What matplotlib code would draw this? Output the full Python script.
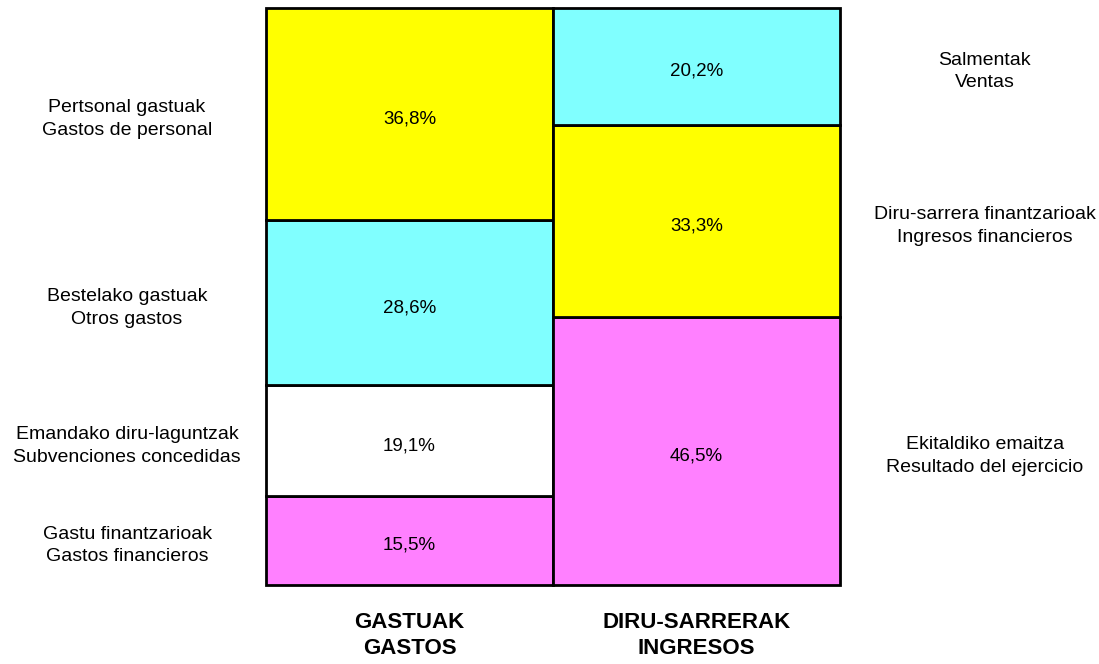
import matplotlib.pyplot as plt
import matplotlib.font_manager as fm

names = set(f.name for f in fm.fontManager.ttflist)
fam = 'Liberation Sans Narrow' if 'Liberation Sans Narrow' in names else 'Liberation Sans'
plt.rcParams['font.family'] = [fam, 'DejaVu Sans']

# data (percent shares, stacked bottom -> top)
gastos_vals = [15.5, 19.1, 28.6, 36.8]
gastos_labels = ['Gastu finantzarioak\nGastos financieros',
                 'Emandako diru-laguntzak\nSubvenciones concedidas',
                 'Bestelako gastuak\nOtros gastos',
                 'Pertsonal gastuak\nGastos de personal']
gastos_colors = ['#FF80FF', '#FFFFFF', '#80FFFF', '#FFFF00']

ingresos_vals = [46.5, 33.3, 20.2]
ingresos_labels = ['Ekitaldiko emaitza\nResultado del ejercicio',
                   'Diru-sarrera finantzarioak\nIngresos financieros',
                   'Salmentak\nVentas']
ingresos_colors = ['#FF80FF', '#FFFF00', '#80FFFF']

columns = ['GASTUAK\nGASTOS', 'DIRU-SARRERAK\nINGRESOS']

fig = plt.figure(figsize=(10.99, 6.64), dpi=100)
ax = fig.add_axes([266/1099, 79/664, 574/1099, 577/664])
ax.set_xlim(-0.5, 1.5)
ax.set_ylim(0, 100)
ax.axis('off')

def stack(xpos, vals, labels, colors, label_x):
    bottom = 0
    for v, lab, c in zip(vals, labels, colors):
        ax.bar(xpos, v, width=1, bottom=bottom, color=c, edgecolor='black',
               linewidth=2, clip_on=False)
        mid = bottom + v / 2 - 0.9
        ax.text(xpos, mid, ('%.1f%%' % v).replace('.', ','), ha='center', va='center',
                fontsize=13.5)
        ax.text(label_x, mid, lab, ha='center', va='center', fontsize=14, clip_on=False,
                linespacing=1.45)
        bottom += v

stack(0, gastos_vals, gastos_labels, gastos_colors, -0.984)
stack(1, ingresos_vals, ingresos_labels, ingresos_colors, 2.005)

for i, col in enumerate(columns):
    ax.text(i, -8.8, col, ha='center', va='center', fontsize=16, fontweight='bold',
            clip_on=False, linespacing=1.3)

fig.savefig('out.png', dpi=100)
